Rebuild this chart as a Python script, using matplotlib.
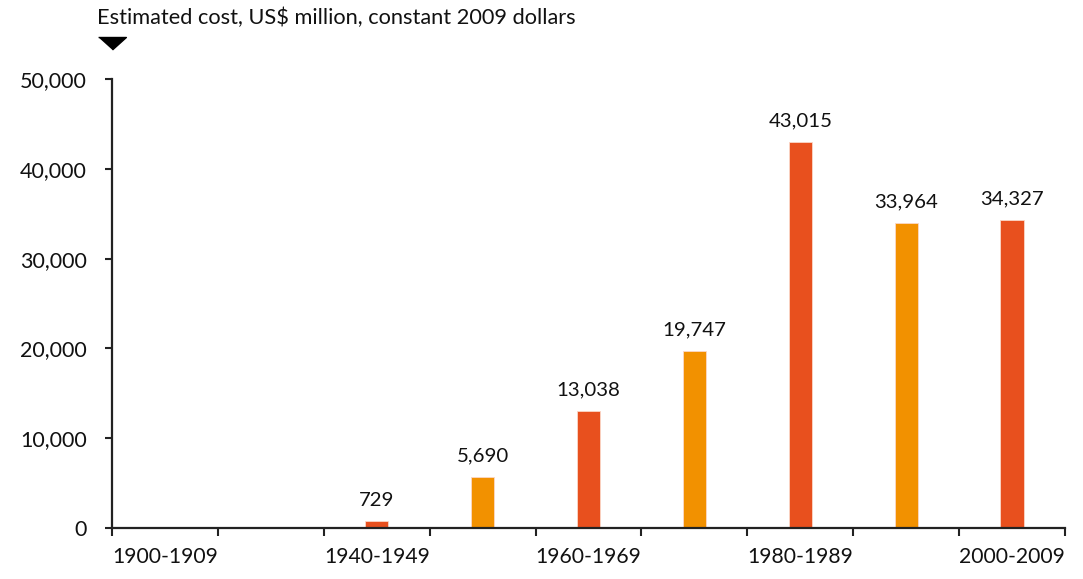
import numpy as np
from matplotlib import pyplot as plt

# decades (the second one is not labelled on the original chart)
decades = ['1900-1909', '1920-1929', '1940-1949', '1950-1959', '1960-1969',
           '1970-1979', '1980-1989', '1990-1999', '2000-2009']
cost = [0, 0, 729, 5690, 13038, 19747, 43015, 33964, 34327]
shown_labels = ['1900-1909', '', '1940-1949', '', '1960-1969', '',
                '1980-1989', '', '2000-2009']

red = '#E8501E'
orange = '#F29100'

plt.rcParams['font.family'] = ['Lato', 'DejaVu Sans']

fig = plt.figure(figsize=(10.83, 5.79), dpi=100)
ax = fig.add_axes([112 / 1083, 1 - 528 / 579, (1065 - 112) / 1083, (528 - 79) / 579])

x = np.arange(len(decades))
colors = [red if i % 2 == 0 else orange for i in range(len(decades))]
for xi, v, c in zip(x, cost, colors):
    if v > 0:
        ax.bar(xi, v, width=0.22, color=c, edgecolor='#fbd8c8', linewidth=0.6)
        ax.annotate(f'{v:,}', (xi, v), xytext=(0, 9), textcoords='offset points',
                    ha='center', va='bottom', fontsize=14.7, color='#111111')

ax.set_xlim(-0.5, len(decades) - 0.5)
ax.set_ylim(0, 50000)
ax.set_yticks(range(0, 50001, 10000))
ax.set_yticklabels([f'{t:,}' for t in range(0, 50001, 10000)], fontsize=15.5, color='#111111')

ax.set_xticks(x)
ax.set_xticklabels(shown_labels, fontsize=15.2, color='#111111')
ax.tick_params(axis='x', which='major', length=0, pad=14)
ax.set_xticks(np.arange(-0.5, len(decades), 1), minor=True)
ax.tick_params(axis='x', which='minor', length=6, width=1.5, direction='out', color='#222222')
ax.tick_params(axis='y', length=5, width=1.5, pad=13, color='#222222')

for s in ['top', 'right']:
    ax.spines[s].set_visible(False)
for s in ['left', 'bottom']:
    ax.spines[s].set_linewidth(1.6)
    ax.spines[s].set_color('#222222')

# arrow marker above the y axis
ax.plot([-0.5], [1.093], marker=[(-1, 0), (1, 0), (0, -0.9)], ms=20, color='black',
        transform=ax.get_xaxis_transform(), clip_on=False)
fig.text(97 / 1083, 1 - 18 / 579, 'Estimated cost, US$ million, constant 2009 dollars',
         fontsize=15.7, va='center', ha='left', color='#111111')

fig.savefig('out.png', dpi=100)
